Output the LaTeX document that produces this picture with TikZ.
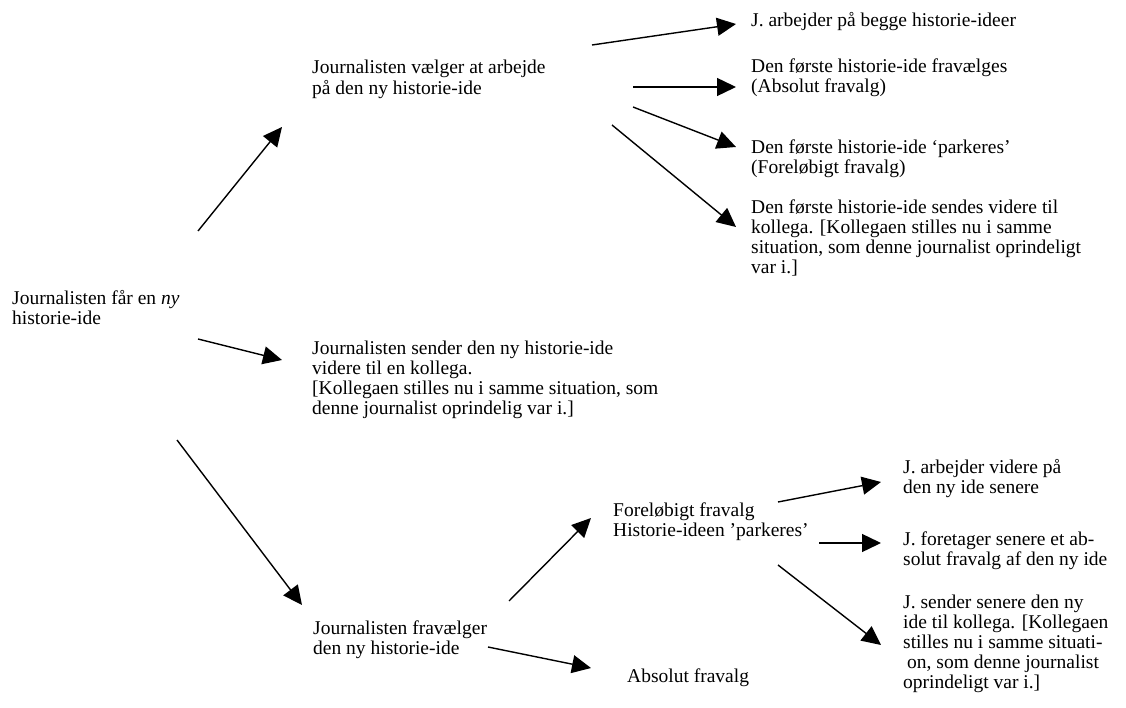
\documentclass[tikz,border=0pt]{standalone}
\usepackage{fontspec}
\setmainfont{Liberation Serif}
\usetikzlibrary{arrows.meta}
\tikzset{
  txt/.style={anchor=north west, inner sep=0pt, align=left, font=\fontsize{19.5}{20}\selectfont},
  arr/.style={line width=1.4pt, -{Triangle[length=19pt,width=18pt]}}
}
\begin{document}
\begin{tikzpicture}[x=1pt,y=-1pt]
\useasboundingbox[fill=white] (0,0) rectangle (1126,708);
% texts
\node[txt] (t0) at (12,290) {\strut Journalisten får en \textit{ny}\\historie-ide};
\node[txt] (a) at (312,59) {\strut Journalisten vælger at arbejde\\på den ny historie-ide};
\node[txt] (b1) at (751,12) {\strut J. arbejder på begge historie-ideer};
\node[txt] (b2) at (751,58) {\strut Den første historie-ide fravælges\\(Absolut fravalg)};
\node[txt] (b3) at (751,139) {\strut Den første historie-ide ‘parkeres’\\(Foreløbigt fravalg)};
\node[txt] (b4) at (751,199) {\strut Den første historie-ide sendes videre til\\kollega. [Kollegaen stilles nu i samme\\situation, som denne journalist oprindeligt\\var i.]};
\node[txt] (c) at (312,340) {\strut Journalisten sender den ny historie-ide\\videre til en kollega.\\{}[Kollegaen stilles nu i samme situation, som\\denne journalist oprindelig var i.]};
\node[txt] (d) at (313,620) {\strut Journalisten fravælger\\den ny historie-ide};
\node[txt] (e) at (613,502) {\strut Foreløbigt fravalg\\Historie-ideen ’parkeres’};
\node[txt] (f) at (627,668) {\strut Absolut fravalg};
\node[txt] (g1) at (903,459) {\strut J. arbejder videre på\\den ny ide senere};
\node[txt] (g2) at (903,531) {\strut J. foretager senere et ab-\\solut fravalg af den ny ide};
\node[txt] (g3) at (903,594) {\strut J. sender senere den ny\\ide til kollega. [Kollegaen\\stilles nu i samme situati-\\\hspace{4pt}on, som denne journalist\\oprindeligt var i.]};
% arrow end points
\coordinate (s1) at (198,231); \coordinate (e1) at (282,127);
\coordinate (s2) at (592,45);  \coordinate (e2) at (736,24);
\coordinate (s3) at (633,87);  \coordinate (e3) at (736,87);
\coordinate (s4) at (633,107); \coordinate (e4) at (736,147);
\coordinate (s5) at (612,125); \coordinate (e5) at (736,227);
\coordinate (s6) at (198,339); \coordinate (e6) at (282,360);
\coordinate (s7) at (177,440); \coordinate (e7) at (302,605);
\coordinate (s8) at (509,601); \coordinate (e8) at (591,518);
\coordinate (s9) at (488,647); \coordinate (e9) at (591,668);
\coordinate (s10) at (778,502); \coordinate (e10) at (881,482);
\coordinate (s11) at (819,543); \coordinate (e11) at (881,543);
\coordinate (s12) at (778,565); \coordinate (e12) at (881,645);
\foreach \i in {1,...,12} \draw[arr] (s\i) -- (e\i);
\end{tikzpicture}
\end{document}
